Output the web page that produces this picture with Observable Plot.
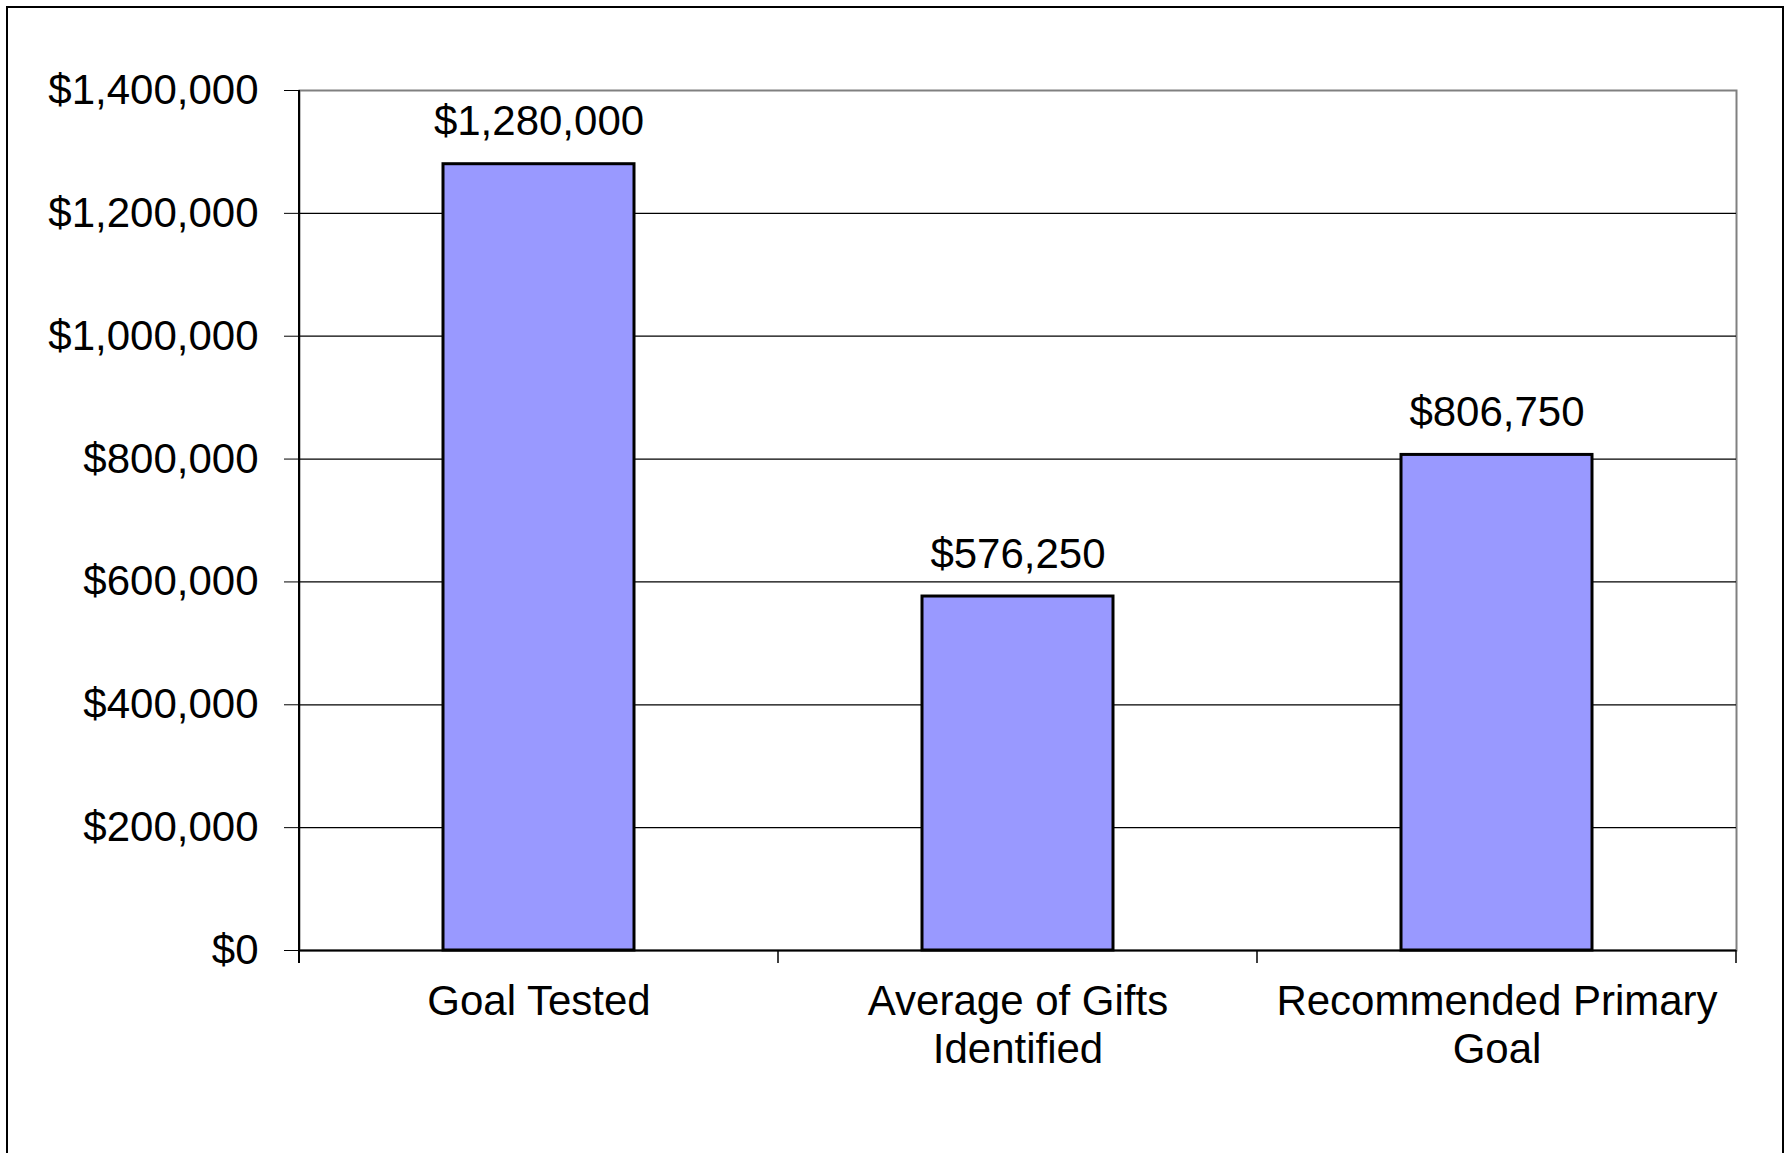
<!DOCTYPE html>
<html>
<head>
<meta charset="utf-8">
<script src="https://cdn.jsdelivr.net/npm/d3@7"></script>
<script src="https://cdn.jsdelivr.net/npm/@observablehq/plot@0.6"></script>
<style>
  html, body { margin: 0; padding: 0; background: #fff; overflow: hidden; }
  #wrap { position: relative; width: 1791px; height: 1153px; }
  #border { position: absolute; left: 6px; top: 6px; width: 1778px; height: 1200px; border: 2px solid #000; box-sizing: border-box; pointer-events: none; }
  #chart { position: absolute; left: 0; top: 0; }
</style>
</head>
<body>
<div id="wrap"><div id="chart"></div><div id="border"></div></div>
<script>
const categories = ["Goal Tested", "Average of Gifts\nIdentified", "Recommended Primary\nGoal"];
const values = [1280000, 576250, 806750];
const yTicks = [0, 200000, 400000, 600000, 800000, 1000000, 1200000, 1400000];
const gridTicks = [200000, 400000, 600000, 800000, 1000000, 1200000];

const data = categories.map((c, i) => ({category: c, value: values[i]}));
const fmt = d3.format("$,");
const FONT = "'Liberation Sans', Arial, sans-serif";

// custom mark: left axis line and boundary ticks on the category axis
function axisLines(index, scales, values, dims) {
  const x = scales.x, y = scales.y;
  const g = d3.create("svg:g").attr("stroke", "#000").attr("fill", "none");
  const step = x.step ? x.step() : x.bandwidth();
  const left = x(categories[0]);
  const bounds = categories.map(c => x(c)).concat([x(categories[categories.length - 1]) + step]);
  const y0 = y(0);
  g.append("line").attr("x1", left).attr("x2", left)
    .attr("y1", y(yTicks[yTicks.length - 1])).attr("y2", y0 + 13).attr("stroke-width", 2);
  for (const b of bounds) {
    g.append("line").attr("x1", b).attr("x2", b).attr("y1", y0).attr("y2", y0 + 13).attr("stroke-width", 1.5);
  }
  return g.node();
}

const chart = Plot.plot({
  width: 1791,
  height: 1153,
  marginTop: 90,
  marginBottom: 203,
  marginLeft: 299,
  marginRight: 55,
  style: {fontFamily: FONT, fontSize: "42px", color: "#000", background: "transparent"},
  x: {domain: categories, padding: 0, label: null},
  y: {domain: [0, 1400000], label: null},
  marks: [
    Plot.frame({stroke: "#808080", strokeWidth: 2}),
    Plot.ruleY(gridTicks, {stroke: "#000", strokeWidth: 1.3}),
    Plot.barY(data, {x: "category", y: "value", fill: "#9999FF", stroke: "#000", strokeWidth: 3, insetLeft: 144, insetRight: 144}),
    Plot.text(data, {x: "category", y: "value", text: d => fmt(d.value), dy: -29, lineAnchor: "bottom", fontSize: 42, fill: "#000"}),
    Plot.ruleY([0], {stroke: "#000", strokeWidth: 2}),
    Plot.axisY({ticks: yTicks, tickFormat: fmt, tickSize: 15, tickPadding: 26, fontSize: 42, label: null}),
    Plot.axisX({tickSize: 0, tickPadding: 31, fontSize: 42, lineHeight: 1.13, label: null}),
    axisLines
  ]
});
document.getElementById("chart").appendChild(chart);
</script>
</body>
</html>
